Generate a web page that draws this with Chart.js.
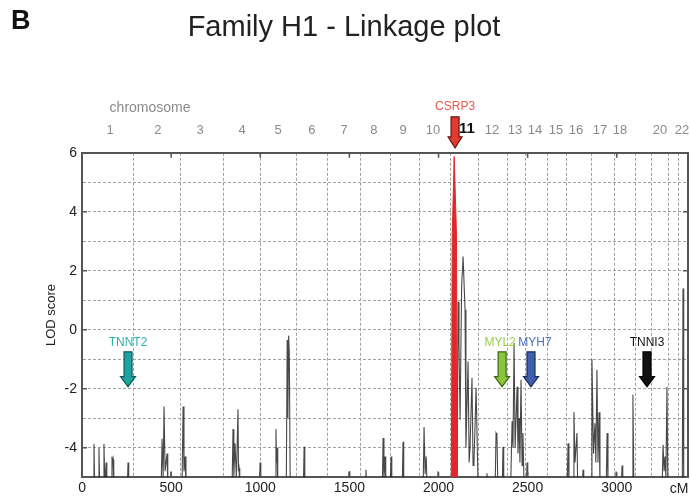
<!DOCTYPE html>
<html><head><meta charset="utf-8">
<script src="https://cdn.jsdelivr.net/npm/chart.js@4.4.1/dist/chart.umd.min.js"></script>
<style>html,body{margin:0;padding:0;background:#fff}#wrap{width:690px;height:500px}</style>
</head><body><div id="wrap"><canvas id="c" width="690" height="500"></canvas></div>
<script>
// ---- data ----
const lodCm = [
  0,
  62, 67, 71,
  91, 95, 99,
  119, 123, 128, 135, 139,
  164, 168, 171, 174, 178,
  254, 258, 262,
  444, 449, 455, 460, 466, 477, 481,
  495, 499, 503,
  561, 567, 572, 578, 583,
  842, 847, 852, 858, 866, 875, 878, 881, 885,
  995, 999, 1003,
  1083, 1088, 1091, 1094, 1098,
  1146, 1151, 1155, 1159, 1163, 1168,
  1242, 1246, 1250,
  1494, 1498, 1502,
  1589, 1593, 1597,
  1685, 1689, 1694, 1700, 1704,
  1729, 1734, 1738,
  1797, 1801, 1805,
  1914, 1919, 1925, 1931, 1936,
  1993, 1997, 2001,
  2104, 2110, 2115, 2121, 2130, 2138, 2149, 2154, 2166, 2172, 2177, 2188, 2194, 2199, 2211, 2222,
  2268, 2272, 2276,
  2318, 2323, 2328, 2333,
  2358, 2362, 2366,
  2405, 2413, 2418, 2424, 2430, 2441, 2446, 2452, 2457, 2463, 2469, 2474, 2480, 2493, 2497, 2501,
  2722, 2727, 2732,
  2755, 2760, 2766, 2777, 2781,
  2807, 2811, 2815,
  2856, 2861, 2870, 2878, 2883, 2889, 2895, 2901, 2906,
  2941, 2946, 2951,
  2992, 2996, 3000,
  3026, 3030, 3034,
  3086, 3091, 3096,
  3255, 3260, 3266, 3271, 3276, 3282, 3287,
  3368, 3372, 3376,
  3400
];
const lodScore = [
  -5.3,
  -5.3, -3.87, -5.3,
  -5.3, -4.0, -5.3,
  -5.3, -3.87, -5.3, -4.5, -5.3,
  -5.3, -4.3, -4.5, -4.4, -5.3,
  -5.3, -4.5, -5.3,
  -5.3, -3.7, -5.0, -2.6, -4.8, -4.2, -5.3,
  -5.3, -4.8, -5.3,
  -5.3, -2.6, -4.8, -4.3, -5.3,
  -5.3, -3.37, -5.0, -3.85, -5.0, -2.7, -4.8, -4.7, -5.3,
  -5.3, -4.5, -5.3,
  -5.3, -3.37, -4.5, -4.0, -5.3,
  -5.3, -0.35, -3.0, -0.2, -0.8, -5.3,
  -5.3, -3.97, -5.3,
  -5.3, -4.8, -5.3,
  -5.3, -4.75, -5.3,
  -5.3, -3.67, -5.0, -4.3, -5.3,
  -5.3, -4.3, -5.3,
  -5.3, -3.8, -5.3,
  -5.3, -3.3, -4.9, -4.3, -5.3,
  -5.3, -4.8, -5.3,
  -5.3, 0.95, -0.5, -3.05, 1.5, 2.48, 0.68, -4.0, -1.08, -4.5, -4.0, -1.63, -4.6, -4.5, -1.97, -5.3,
  -5.3, -4.87, -5.3,
  -5.3, -3.5, -3.57, -5.3,
  -5.3, -3.97, -5.3,
  -5.3, -3.1, -4.0, -0.45, -4.0, -1.93, -4.2, -3.0, -4.5, -1.7, -4.6, -3.5, -5.3, -5.3, -4.5, -5.3,
  -5.3, -3.85, -5.3,
  -5.3, -2.8, -4.5, -3.5, -5.3,
  -5.3, -4.75, -5.3,
  -5.3, -1.0, -4.2, -3.17, -4.5, -1.36, -4.5, -2.8, -5.3,
  -5.3, -3.5, -5.3,
  -5.3, -4.8, -5.3,
  -5.3, -4.6, -5.3,
  -5.3, -2.2, -5.3,
  -5.3, -3.9, -4.8, -4.3, -5.0, -1.93, -5.3,
  -5.3, 1.4, -5.3,
  -5.3
];
const csrp3Cm  = [2072, 2077, 2088, 2101, 2106];
const csrp3Lod = [-5.3, 3.2, 5.87, 3.2, -5.3];

const chromBoundsCm = [286, 555, 791, 1004, 1201, 1380, 1565, 1728, 1891, 2065, 2222, 2390, 2486, 2614, 2721, 2856, 2985, 3103, 3198, 3288, 3344];
const chromLabelCm  = [157, 426, 662, 898, 1100, 1290, 1470, 1638, 1801, 1969, 2160, 2300, 2429, 2541, 2659, 2772, 2906, 3018, 3243, 3366];
const chromLabels   = ['1','2','3','4','5','6','7','8','9','10','11','12','13','14','15','16','17','18','20','22'];

const xTickValues = [0, 500, 1000, 1500, 2000, 2500, 3000];
const yGridValues = [-5, -4, -3, -2, -1, 0, 1, 2, 3, 4, 5, 6];
const yLabelValues = [-4, -2, 0, 2, 4, 6];

const geneNames = ['TNNT2', 'MYL2', 'MYH7', 'TNNI3'];
const genePosCm = [258, 2357, 2519, 3170];
const peakGene = 'CSRP3';
const peakGeneCm = 2093;

// ---- styles ----
const FONT = "'Liberation Sans', Arial, Helvetica, sans-serif";
const geneStyle = {
  TNNT2: {text: '#2bb3ad', fill: '#1fa3a0', stroke: '#0f5b5a', dx: 0},
  MYL2:  {text: '#9ccb4c', fill: '#8cc43c', stroke: '#3f6414', dx: -2},
  MYH7:  {text: '#4f6fb8', fill: '#3e5fae', stroke: '#1b2c5c', dx: 4},
  TNNI3: {text: '#111111', fill: '#111111', stroke: '#000000', dx: 0},
  CSRP3: {text: '#e8584d', fill: '#e23a2e', stroke: '#6a1410', dx: 0}
};

function drawArrow(ctx, cx, yTop, yTip, sh, hh, hl, fill, stroke) {
  ctx.beginPath();
  ctx.moveTo(cx - sh, yTop);
  ctx.lineTo(cx + sh, yTop);
  ctx.lineTo(cx + sh, yTip - hl);
  ctx.lineTo(cx + hh, yTip - hl);
  ctx.lineTo(cx, yTip);
  ctx.lineTo(cx - hh, yTip - hl);
  ctx.lineTo(cx - sh, yTip - hl);
  ctx.closePath();
  ctx.fillStyle = fill;
  ctx.fill();
  ctx.lineWidth = 1.2;
  ctx.strokeStyle = stroke;
  ctx.stroke();
}

const decor = {
  id: 'decor',
  afterDraw(chart) {
    const ctx = chart.ctx;
    const ca = chart.chartArea;
    const xs = chart.scales.x, ys = chart.scales.y;
    ctx.save();
    // panel letter
    ctx.fillStyle = '#111';
    ctx.font = "bold 27px " + FONT;
    ctx.textAlign = 'left';
    ctx.textBaseline = 'alphabetic';
    ctx.fillText('B', 11, 29);
    // chromosome caption
    ctx.fillStyle = '#8a8a8a';
    ctx.font = "14px " + FONT;
    ctx.textAlign = 'center';
    ctx.textBaseline = 'middle';
    ctx.fillText('chromosome', ca.left + 68, ca.top - 45);
    // right border
    ctx.strokeStyle = '#555';
    ctx.lineWidth = 2;
    ctx.beginPath();
    ctx.moveTo(ca.right, ca.top);
    ctx.lineTo(ca.right, ca.bottom);
    ctx.stroke();
    // inward ticks
    ctx.lineWidth = 1.6;
    xTickValues.forEach(v => {
      const px = xs.getPixelForValue(v);
      ctx.beginPath();
      ctx.moveTo(px, ca.top); ctx.lineTo(px, ca.top + 5);
      ctx.moveTo(px, ca.bottom); ctx.lineTo(px, ca.bottom - 5);
      ctx.stroke();
    });
    yLabelValues.forEach(v => {
      const py = ys.getPixelForValue(v);
      ctx.beginPath();
      ctx.moveTo(ca.left, py); ctx.lineTo(ca.left + 5, py);
      ctx.moveTo(ca.right, py); ctx.lineTo(ca.right - 5, py);
      ctx.stroke();
    });
    // gene arrows
    geneNames.forEach((g, i) => {
      const st = geneStyle[g];
      const px = xs.getPixelForValue(genePosCm[i]);
      ctx.fillStyle = st.text;
      ctx.font = "12px " + FONT;
      ctx.textAlign = 'center';
      ctx.textBaseline = 'middle';
      ctx.fillText(g, px + st.dx, ys.getPixelForValue(-0.45));
      drawArrow(ctx, px, ys.getPixelForValue(-0.75), ys.getPixelForValue(-1.93), 4, 7.5, 10, st.fill, st.stroke);
    });
    // peak gene (above plot)
    {
      const st = geneStyle[peakGene];
      const px = xs.getPixelForValue(peakGeneCm);
      ctx.fillStyle = st.text;
      ctx.font = "12px " + FONT;
      ctx.textAlign = 'center';
      ctx.textBaseline = 'middle';
      ctx.fillText(peakGene, px, ca.top - 46);
      drawArrow(ctx, px, ca.top - 36, ca.top - 5, 4, 7, 11, st.fill, st.stroke);
    }
    // cM unit
    ctx.fillStyle = '#222';
    ctx.font = "14px " + FONT;
    ctx.textAlign = 'center';
    ctx.textBaseline = 'middle';
    ctx.fillText('cM', ca.right - 9, ca.bottom + 12);
    ctx.restore();
  }
};

const zeroPad = s => { s.paddingLeft = 0; s.paddingRight = 0; };

new Chart(document.getElementById('c'), {
  type: 'line',
  data: {
    datasets: [
      {
        label: 'CSRP3 region',
        data: csrp3Cm.map((x, i) => ({x, y: csrp3Lod[i]})),
        borderColor: '#e3262b', backgroundColor: '#e3262b',
        borderWidth: 1, pointRadius: 0, fill: 'start', tension: 0, order: 0
      },
      {
        label: 'LOD score',
        data: lodCm.map((x, i) => ({x, y: lodScore[i]})),
        borderColor: 'rgba(40,40,40,0.85)', backgroundColor: 'rgba(0,0,0,0)',
        borderWidth: 1.1, pointRadius: 0, fill: false, tension: 0, order: 1
      }
    ]
  },
  options: {
    responsive: false, animation: false,
    layout: {padding: {left: 0, right: 2, top: 0, bottom: 0}},
    plugins: {
      legend: {display: false},
      tooltip: {enabled: false},
      title: {
        display: true, text: 'Family H1 - Linkage plot', color: '#222',
        font: {family: FONT, size: 29, weight: 'normal'},
        padding: {top: 11, bottom: 59}
      }
    },
    scales: {
      x: {
        type: 'linear', position: 'bottom', min: 0, max: 3400,
        afterBuildTicks: s => { s.ticks = xTickValues.map(v => ({value: v})); },
        afterFit: zeroPad,
        ticks: {font: {family: FONT, size: 14}, color: '#222', padding: 3, maxRotation: 0, autoSkip: false, callback: v => String(v)},
        grid: {display: false, drawTicks: false},
        border: {display: true, color: '#555', width: 2}
      },
      xg: {
        type: 'linear', position: 'bottom', min: 0, max: 3400,
        afterBuildTicks: s => { s.ticks = chromBoundsCm.map(v => ({value: v})); },
        afterFit: zeroPad,
        ticks: {display: false},
        grid: {color: '#a0a0a0', lineWidth: 1, drawTicks: false},
        border: {display: false, dash: [3, 2]}
      },
      xTop: {
        type: 'linear', position: 'top', min: 0, max: 3400,
        afterBuildTicks: s => { s.ticks = chromLabelCm.map(v => ({value: v})); },
        afterFit: zeroPad,
        ticks: {
          callback: (v, i) => chromLabels[i],
          color: c => (c.tick && chromLabels[c.index] === '11') ? '#111' : '#8a8a8a',
          font: c => (c.tick && chromLabels[c.index] === '11') ? {family: FONT, size: 15, weight: 'bold'} : {family: FONT, size: 13},
          padding: 15, maxRotation: 0, autoSkip: false
        },
        grid: {display: false, drawTicks: false},
        border: {display: true, color: '#555', width: 2}
      },
      y: {
        type: 'linear', min: -5, max: 6,
        afterBuildTicks: s => { s.ticks = yGridValues.map(v => ({value: v})); },
        ticks: {
          callback: v => yLabelValues.includes(v) ? String(v) : '',
          font: {family: FONT, size: 14}, color: '#222', padding: 5, autoSkip: false
        },
        grid: {color: '#a0a0a0', lineWidth: 1, drawTicks: false},
        border: {display: true, color: '#555', width: 2, dash: [3, 2]},
        title: {display: true, text: 'LOD score', color: '#222', font: {family: FONT, size: 13}, padding: {top: 44, bottom: 0}}
      }
    }
  },
  plugins: [decor]
});
</script>
</body></html>
